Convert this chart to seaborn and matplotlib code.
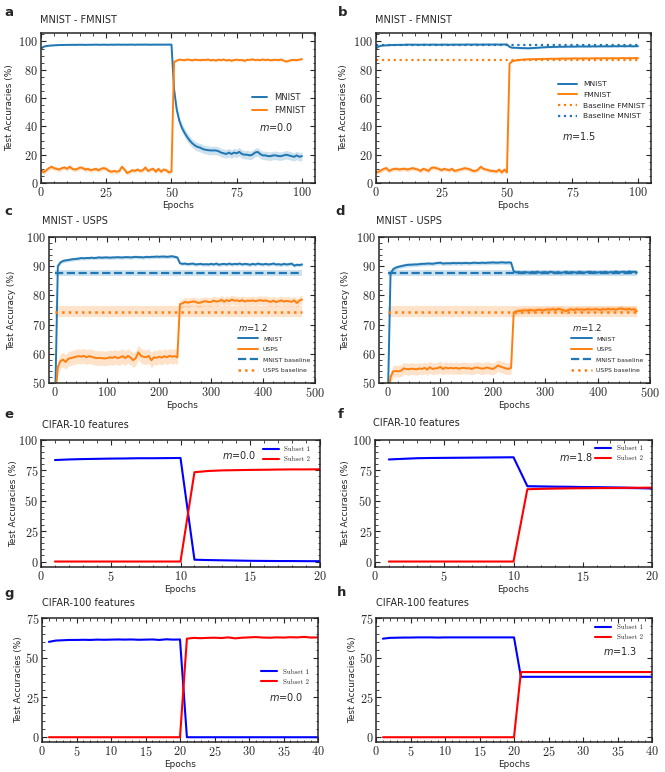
"""
Test accuracy curves for sequential training (MNIST/FMNIST, MNIST/USPS, CIFAR features).
"""
import numpy as np
import pandas as pd
import matplotlib
matplotlib.use("Agg")
import matplotlib.pyplot as plt
import seaborn as sns
from matplotlib.ticker import AutoMinorLocator, MultipleLocator

# ---------------------------------------------------------------- data
epochs_ab = np.arange(0, 101)
epochs_cd = np.arange(0, 480, 5)
epochs_ef = np.arange(1, 21)
epochs_gh = np.arange(1, 41)

mnist_a = [95.0, 96.3, 96.8, 97.0, 97.2, 97.3, 97.4, 97.5, 97.5, 97.6,
           97.6, 97.6, 97.7, 97.6, 97.7, 97.7, 97.7, 97.6, 97.7, 97.7,
           97.7, 97.8, 97.7, 97.7, 97.8, 97.7, 97.7, 97.8, 97.7, 97.8,
           97.8, 97.7, 97.8, 97.7, 97.8, 97.8, 97.7, 97.8, 97.8, 97.8,
           97.8, 97.8, 97.7, 97.8, 97.8, 97.8, 97.8, 97.8, 97.8, 97.8,
           97.8, 66.0, 52.0, 44.0, 39.0, 35.5, 32.5, 30.0, 28.0, 26.5,
           25.5, 25.0, 24.0, 23.5, 23.2, 23.0, 23.0, 23.0, 22.5, 21.5,
           21.0, 20.5, 21.5, 20.5, 21.5, 21.0, 22.0, 20.5, 20.0, 20.0,
           19.5, 20.0, 21.5, 22.0, 20.5, 19.5, 19.5, 19.0, 19.0, 19.5,
           19.5, 19.0, 19.0, 19.5, 20.0, 19.5, 19.0, 18.5, 19.5, 18.5,
           19.0]
fmnist_a = [9.5, 7.5, 9.0, 10.5, 11.5, 10.5, 10.0, 9.5, 10.5, 11.0,
            10.0, 11.5, 10.0, 9.5, 10.0, 11.0, 10.5, 9.5, 10.0, 9.0,
            9.5, 10.0, 9.0, 10.0, 10.5, 10.0, 8.5, 8.0, 8.5, 8.0,
            8.5, 11.5, 9.5, 7.0, 8.0, 9.0, 8.5, 9.5, 8.5, 9.0,
            11.0, 8.5, 9.5, 10.0, 8.0, 10.0, 8.0, 9.5, 9.0, 7.5,
            8.0, 85.5, 86.5, 87.2, 87.0, 86.8, 87.3, 87.0, 86.7, 87.2,
            87.0, 86.8, 87.1, 86.9, 87.3, 86.7, 87.0, 86.5, 87.2, 86.8,
            87.3, 86.6, 87.0, 86.4, 86.9, 87.2, 86.8, 87.0, 86.3, 87.1,
            87.0, 87.4, 86.9, 87.1, 86.8, 87.3, 86.9, 87.2, 86.7, 87.0,
            87.1, 86.8, 87.3, 86.5, 85.8, 86.4, 86.9, 87.0, 86.8, 87.2,
            87.5]
mnist_a_sd = [0.4] * 51 + [3.0] * 50
fmnist_a_sd = [1.5] * 51 + [0.8] * 50

mnist_b = [95.0, 96.5, 97.0, 97.2, 97.3, 97.4, 97.5, 97.5, 97.6, 97.6,
           97.6, 97.7, 97.8, 97.8, 97.7, 97.8, 97.7, 97.7, 97.8, 97.8,
           97.7, 97.8, 97.8, 97.8, 97.7, 97.8, 97.8, 97.8, 97.7, 97.8,
           97.8, 97.8, 97.8, 97.8, 97.8, 97.9, 97.8, 97.8, 97.9, 97.8,
           97.8, 97.9, 97.8, 97.9, 97.8, 97.9, 97.9, 97.8, 97.9, 97.9,
           97.9, 96.2, 95.6, 95.6, 95.5, 95.4, 95.3, 95.3, 95.2, 95.3,
           95.4, 95.5, 95.6, 95.8, 95.9, 96.0, 96.1, 96.1, 96.2, 96.2,
           96.3, 96.3, 96.3, 96.4, 96.4, 96.4, 96.4, 96.5, 96.5, 96.5,
           96.5, 96.5, 96.5, 96.6, 96.5, 96.6, 96.6, 96.6, 96.6, 96.6,
           96.6, 96.7, 96.6, 96.7, 96.7, 96.6, 96.7, 96.7, 96.6, 96.7,
           96.7]
fmnist_b = [7.5, 8.0, 9.0, 10.0, 10.5, 8.5, 9.5, 10.0, 10.0, 9.5,
            10.0, 10.0, 9.5, 10.0, 10.5, 10.0, 9.5, 8.5, 10.0, 9.5,
            8.5, 10.5, 11.0, 10.5, 10.0, 9.0, 10.0, 9.5, 9.0, 10.0,
            8.5, 9.0, 9.5, 10.0, 10.5, 10.0, 9.5, 8.5, 8.5, 9.5,
            11.5, 10.0, 9.5, 9.0, 8.5, 8.5, 8.0, 9.5, 7.5, 9.5,
            7.5, 84.5, 86.0, 86.5, 86.8, 87.0, 87.2, 87.3, 87.4, 87.5,
            87.5, 87.6, 87.6, 87.7, 87.7, 87.7, 87.8, 87.8, 87.8, 87.8,
            87.9, 87.9, 88.0, 87.9, 88.0, 88.0, 88.1, 88.0, 88.0, 88.1,
            88.1, 88.0, 88.1, 88.1, 88.2, 88.1, 88.1, 88.2, 88.2, 88.1,
            88.2, 88.2, 88.1, 88.2, 88.3, 88.2, 88.2, 88.3, 88.2, 88.3,
            88.3]
mnist_b_sd = [0.4] * 51 + [0.6] * 50
fmnist_b_sd = [1.5] * 51 + [0.5] * 50
baseline_fmnist_b = 87.0
baseline_mnist_b = 97.7

mnist_c = [45.0, 90.0, 91.3, 91.8, 92.0, 92.1, 92.3, 92.4, 92.5, 92.6,
           92.8, 92.7, 92.8, 92.8, 92.9, 92.8, 92.9, 93.0, 92.9, 93.0,
           93.0, 92.9, 93.0, 93.0, 93.1, 93.0, 93.0, 93.1, 93.1, 93.0,
           93.1, 93.2, 93.1, 93.1, 93.0, 93.2, 93.1, 93.2, 93.2, 93.3,
           93.2, 93.3, 93.3, 93.2, 93.3, 93.4, 93.2, 93.0, 91.0, 90.8,
           90.9, 90.7, 90.8, 90.9, 90.6, 90.7, 90.8, 90.6, 90.7, 90.6,
           90.8, 90.6, 90.9, 90.5, 90.7, 90.8, 90.6, 90.9, 90.6, 90.8,
           90.7, 90.9, 90.6, 90.8, 90.7, 90.5, 90.8, 90.6, 90.9, 90.7,
           90.6, 90.8, 90.6, 90.7, 90.9, 90.6, 90.7, 90.5, 90.8, 90.6,
           90.7, 90.9, 90.2, 90.5, 90.4, 90.6]
usps_c = [45.0, 55.5, 57.5, 58.0, 57.2, 58.3, 58.5, 58.8, 59.0, 59.2,
          59.0, 59.3, 58.8, 59.2, 59.0, 58.7, 58.5, 58.6, 58.5, 58.4,
          58.5, 58.8, 58.6, 59.0, 58.5, 58.8, 59.2, 58.5, 59.3, 58.7,
          57.8, 58.5, 60.5, 59.3, 59.0, 58.8, 59.3, 57.8, 58.8, 58.6,
          59.0, 58.7, 59.2, 58.8, 59.3, 59.0, 59.2, 58.8, 77.0, 77.3,
          77.8, 77.5, 77.7, 77.9, 77.8, 77.4, 77.6, 77.9, 78.0, 77.7,
          77.8, 78.2, 77.9, 78.0, 78.5, 77.8, 78.4, 78.0, 78.6, 78.2,
          78.3, 78.0, 78.4, 77.9, 78.2, 78.1, 78.3, 78.0, 78.2, 78.4,
          78.1, 78.3, 78.0, 77.8, 78.2, 77.7, 78.0, 78.3, 77.9, 78.1,
          78.0, 77.8, 78.3, 77.4, 78.2, 78.6]
mnist_c_sd = [0.6] * 96
usps_c_sd = [2.5] * 48 + [1.5] * 48
baseline_mnist_c, baseline_mnist_c_sd = 87.7, 1.0
baseline_usps_c, baseline_usps_c_sd = 74.4, 1.8

mnist_d = [45.0, 87.5, 89.0, 89.5, 89.8, 90.0, 90.2, 90.4, 90.5, 90.5,
           90.6, 90.6, 90.7, 90.8, 90.8, 90.9, 90.9, 90.8, 91.0, 91.1,
           91.2, 90.9, 91.0, 91.0, 91.0, 91.1, 91.0, 91.1, 91.0, 91.1,
           91.1, 91.0, 91.1, 91.2, 91.1, 91.1, 91.2, 91.1, 91.2, 91.2,
           91.3, 91.2, 91.2, 91.3, 91.3, 91.2, 91.3, 91.2, 88.2, 87.9,
           88.0, 87.8, 88.0, 87.9, 87.8, 88.0, 87.9, 88.1, 87.8, 87.9,
           88.0, 87.8, 88.1, 87.9, 87.8, 88.0, 87.7, 87.9, 88.1, 87.8,
           88.0, 87.9, 87.8, 88.1, 87.9, 87.8, 88.0, 88.1, 87.9, 88.0,
           87.8, 88.0, 87.9, 88.1, 87.8, 88.0, 87.9, 88.2, 87.9, 88.0,
           88.1, 87.9, 88.2, 88.0, 88.1, 87.9]
usps_d = [45.0, 52.0, 54.0, 54.1, 54.0, 54.2, 55.0, 54.8, 54.7, 54.9,
          54.8, 54.7, 55.0, 54.8, 55.2, 54.6, 55.4, 54.8, 55.0, 55.1,
          55.5, 54.8, 55.3, 55.0, 55.2, 55.0, 55.2, 54.9, 55.1, 55.2,
          55.0, 55.1, 54.8, 55.2, 55.3, 55.1, 54.9, 55.1, 55.3, 55.0,
          54.8, 55.3, 56.0, 55.6, 55.3, 55.0, 54.8, 55.2, 74.2, 74.5,
          74.7, 74.8, 74.9, 74.8, 75.0, 74.9, 74.8, 75.0, 75.1, 74.9,
          75.0, 75.2, 75.1, 75.3, 75.0, 75.4, 75.2, 74.9, 74.6, 75.1,
          75.2, 75.0, 75.3, 75.1, 75.2, 75.0, 75.3, 75.2, 75.1, 75.3,
          75.2, 75.0, 75.3, 75.1, 75.4, 75.2, 75.3, 75.1, 75.4, 75.5,
          75.3, 75.2, 75.4, 75.1, 75.3, 74.6]
mnist_d_sd = [0.7] * 96
usps_d_sd = [2.0] * 48 + [1.0] * 48
baseline_mnist_d, baseline_mnist_d_sd = 87.7, 1.0
baseline_usps_d, baseline_usps_d_sd = 74.4, 1.8

sub1_e = [83.5, 84.0, 84.3, 84.5, 84.7, 84.8, 85.0, 85.0, 85.1, 85.2,
          1.5, 1.2, 1.0, 0.8, 0.6, 0.5, 0.4, 0.4, 0.3, 0.3]
sub2_e = [0.0] * 10 + [73.5, 74.5, 75.0, 75.2, 75.4, 75.5, 75.7, 75.8, 75.8, 75.9]

sub1_f = [84.0, 84.5, 85.0, 85.2, 85.3, 85.4, 85.5, 85.6, 85.7, 85.8,
          62.0, 61.8, 61.6, 61.5, 61.3, 61.2, 61.0, 60.8, 60.5, 60.2]
sub2_f = [0.0] * 10 + [59.5, 59.8, 60.0, 60.2, 60.3, 60.4, 60.5, 60.6, 60.7, 60.8]
sub1_f_sd = [0.3] * 10 + [1.2] * 10

sub1_g = [60.0, 60.8, 61.0, 61.2, 61.2, 61.3, 61.2, 61.4, 61.3, 61.4,
          61.5, 61.4, 61.5, 61.3, 61.4, 61.5, 61.2, 61.6, 61.4, 61.5] + [0.0] * 20
sub2_g = [0.0] * 20 + [62.0, 62.5, 62.3, 62.5, 62.6, 62.4, 62.8, 62.2, 62.6, 62.8,
                       63.0, 62.7, 62.6, 62.8, 62.7, 62.9, 62.8, 63.1, 62.7, 62.8]

sub1_h = [62.0, 62.5, 62.6, 62.7, 62.7, 62.8, 62.8, 62.8, 62.7, 62.8,
          62.8, 62.8, 62.8, 62.8, 62.8, 62.8, 62.8, 62.8, 62.8, 62.8] + [38.0] * 20
sub2_h = [0.0] * 20 + [41.0] * 20

# ---------------------------------------------------------------- style
sns.set_style("ticks")
plt.rcParams.update({
    'font.family': 'DejaVu Sans',
    'axes.linewidth': 1.1,
    'axes.formatter.use_mathtext': True,
    'lines.linewidth': 1.4,
})

W, H = 665, 772
BLUE, ORANGE = '#1f77b4', '#ff7f0e'

fig = plt.figure(figsize=(W / 100, H / 100), dpi=100)


def add_ax(x0, y0, x1, y1):
    return fig.add_axes([x0 / W, 1 - y1 / H, (x1 - x0) / W, (y1 - y0) / H])


def style_axes(ax, xlim, ylim, xstep, ystep, ylabel, ylab_px):
    ax.set_xlim(*xlim)
    ax.set_ylim(*ylim)
    ax.xaxis.set_major_locator(MultipleLocator(xstep))
    ax.yaxis.set_major_locator(MultipleLocator(ystep))
    ax.xaxis.set_minor_locator(AutoMinorLocator())
    ax.yaxis.set_minor_locator(AutoMinorLocator())
    ax.tick_params(which='both', direction='in', top=True, right=True,
                   labelsize=8.8, labelfontfamily='cmr10', pad=2)
    ax.tick_params(which='major', length=3.5, width=0.8)
    ax.tick_params(which='minor', length=1.8, width=0.6)
    ax.set_xlabel("Epochs", fontsize=6.4, labelpad=1)
    ax.set_ylabel(ylabel, fontsize=6.4)
    bb = ax.get_position()
    ax.yaxis.set_label_coords((ylab_px / W - bb.x0) / bb.width, 0.5)


def band(ax, x, y, sd, color, alpha=0.22):
    y = np.asarray(y)
    sd = np.asarray(sd)
    ax.fill_between(x, y - sd, y + sd, color=color, alpha=alpha, lw=0)


def header(letter, lx, ly, title, tx, ty):
    fig.text(lx / W, 1 - ly / H, letter, fontsize=9.5, fontweight='bold',
             ha='left', va='center')
    fig.text(tx / W, 1 - ty / H, title, fontsize=7, ha='left', va='center')


# ---------------------------------------------------------------- a
ax = add_ax(41, 33, 315, 183)
band(ax, epochs_ab, mnist_a, mnist_a_sd, BLUE)
band(ax, epochs_ab, fmnist_a, fmnist_a_sd, ORANGE)
sns.lineplot(x=epochs_ab, y=mnist_a, color=BLUE, label="MNIST", ax=ax)
sns.lineplot(x=epochs_ab, y=fmnist_a, color=ORANGE, label="FMNIST", ax=ax)
style_axes(ax, (0, 105), (0, 106), 25, 20, "Test Accuracies (%)", 14)
ax.legend(loc='upper left', bbox_to_anchor=(0.77, 0.60), frameon=False,
          fontsize=6, borderpad=0, borderaxespad=0, handlelength=1.8,
          handletextpad=0.8, labelspacing=0.45)
ax.text(0.86, 0.373, "$m$=0.0", transform=ax.transAxes, fontsize=7,
        ha='center', va='center')
header("a", 4, 13, "MNIST - FMNIST", 40, 20)

# ---------------------------------------------------------------- b
ax = add_ax(376, 33, 651, 183)
band(ax, epochs_ab, mnist_b, mnist_b_sd, BLUE)
band(ax, epochs_ab, fmnist_b, fmnist_b_sd, ORANGE)
sns.lineplot(x=epochs_ab, y=mnist_b, color=BLUE, label="MNIST", ax=ax)
sns.lineplot(x=epochs_ab, y=fmnist_b, color=ORANGE, label="FMNIST", ax=ax)
sns.lineplot(x=[0, 100], y=[baseline_fmnist_b, baseline_fmnist_b], color=ORANGE,
             linestyle=':', lw=1.6, label="Baseline FMNIST", ax=ax)
sns.lineplot(x=[0, 100], y=[baseline_mnist_b, baseline_mnist_b], color=BLUE,
             linestyle=':', lw=1.6, label="Baseline MNIST", ax=ax)
style_axes(ax, (0, 105), (0, 106), 25, 20, "Test Accuracies (%)", 348)
ax.legend(loc='upper left', bbox_to_anchor=(0.66, 0.68), frameon=False,
          fontsize=5.4, borderpad=0, borderaxespad=0, handlelength=2.6,
          handletextpad=0.8, labelspacing=0.6)
ax.text(0.74, 0.31, "$m$=1.5", transform=ax.transAxes, fontsize=7,
        ha='center', va='center')
header("b", 338, 13, "MNIST - FMNIST", 375, 20)

# ---------------------------------------------------------------- c / d
for (x0, x1, letter, lx, tx, ylab_px, xmin, m_cd, usps_cd, m_sd, u_sd,
     bm, bm_sd, bu, bu_sd) in [
        (49, 315, "c", 4, 42, 16, -12, mnist_c, usps_c, mnist_c_sd, usps_c_sd,
         baseline_mnist_c, baseline_mnist_c_sd, baseline_usps_c, baseline_usps_c_sd),
        (379, 650, "d", 335, 376, 350, -17, mnist_d, usps_d, mnist_d_sd, usps_d_sd,
         baseline_mnist_d, baseline_mnist_d_sd, baseline_usps_d, baseline_usps_d_sd)]:
    ax = add_ax(x0, 237, x1, 383)
    xb = [epochs_cd[0], epochs_cd[-1]]
    ax.fill_between(xb, bm - bm_sd, bm + bm_sd, color=BLUE, alpha=0.22, lw=0)
    ax.fill_between(xb, bu - bu_sd, bu + bu_sd, color=ORANGE, alpha=0.22, lw=0)
    band(ax, epochs_cd, m_cd, m_sd, BLUE)
    band(ax, epochs_cd, usps_cd, u_sd, ORANGE)
    sns.lineplot(x=epochs_cd, y=m_cd, color=BLUE, label="MNIST", ax=ax)
    sns.lineplot(x=epochs_cd, y=usps_cd, color=ORANGE, label="USPS", ax=ax)
    sns.lineplot(x=xb, y=[bm, bm], color=BLUE, linestyle='--', lw=1.6,
                 label="MNIST baseline", ax=ax)
    sns.lineplot(x=xb, y=[bu, bu], color=ORANGE, linestyle=':', lw=1.8,
                 label="USPS baseline", ax=ax)
    style_axes(ax, (xmin, 500), (50, 100), 100, 10, "Test Accuracy (%)", ylab_px)
    ax.legend(loc='upper left', bbox_to_anchor=(0.71, 0.32), frameon=False,
              fontsize=4.4, borderpad=0, borderaxespad=0, handlelength=3.3,
              handletextpad=0.8, labelspacing=0.85)
    ax.text(0.767, 0.38, "$m$=1.2", transform=ax.transAxes, fontsize=6.2,
            ha='center', va='center')
    header(letter, lx, 211, "MNIST - USPS", tx, 221)

# ---------------------------------------------------------------- e-h
cifar_panels = [
    (41, 320, 440, 567, "e", 4, 42, 415, 425, "CIFAR-10 features", 18,
     epochs_ef, sub1_e, sub2_e, None, (-4.5, 100), 5, 25, "$m$=0.0",
     (0.795, 0.95), (0.71, 0.88)),
    (375, 652, 440, 567, "f", 338, 373, 414, 423, "CIFAR-10 features", 350,
     epochs_ef, sub1_f, sub2_f, sub1_f_sd, (-4.5, 100), 5, 25, "$m$=1.8",
     (0.795, 0.96), (0.726, 0.87)),
    (42, 318, 618, 742, "g", 4, 42, 593, 603, "CIFAR-100 features", 23,
     epochs_gh, sub1_g, sub2_g, None, (-3, 75), 5, 25, "$m$=0.0",
     (0.795, 0.59), (0.884, 0.363)),
    (376, 652, 618, 742, "h", 337, 376, 593, 603, "CIFAR-100 features", 357,
     epochs_gh, sub1_h, sub2_h, None, (-3, 75), 5, 25, "$m$=1.3",
     (0.795, 0.95), (0.884, 0.73)),
]
for (x0, x1, y0, y1, letter, lx, tx, ly, ty, title, ylab_px, ep, s1, s2, s1_sd,
     ylim, xstep, ystep, mtxt, leg_xy, m_xy) in cifar_panels:
    ax = add_ax(x0, y0, x1, y1)
    if s1_sd is not None:
        band(ax, ep, s1, s1_sd, 'blue', alpha=0.18)
    sns.lineplot(x=ep, y=s1, color='blue', lw=1.5, label="Subset 1", ax=ax)
    sns.lineplot(x=ep, y=s2, color='red', lw=1.5, label="Subset 2", ax=ax)
    style_axes(ax, (0, ep[-1]), ylim, xstep, ystep, "Test Accuracies (%)", ylab_px)
    ax.legend(loc='upper left', bbox_to_anchor=leg_xy, frameon=False,
              prop={'family': 'cmr10', 'size': 5.0}, borderpad=0,
              borderaxespad=0, handlelength=2.3, handletextpad=0.8,
              labelspacing=0.6)
    ax.text(m_xy[0], m_xy[1], mtxt, transform=ax.transAxes, fontsize=7,
            ha='center', va='center')
    header(letter, lx, ly, title, tx, ty)

fig.savefig("out.png", dpi=100)
plt.close(fig)
